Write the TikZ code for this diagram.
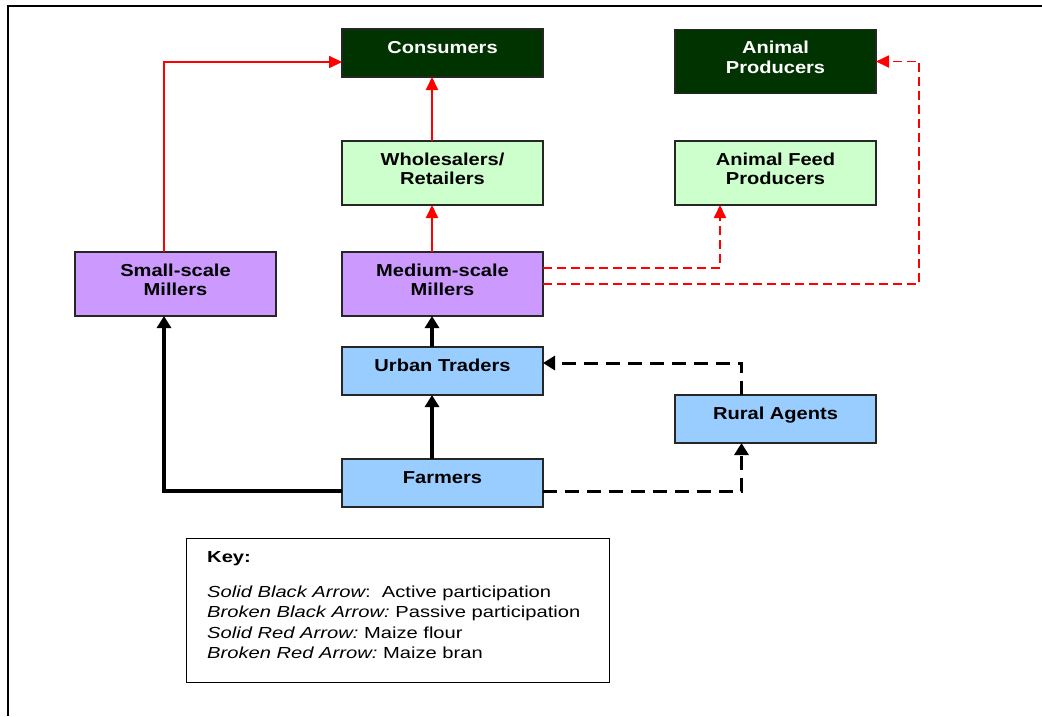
\documentclass[tikz,border=0pt]{standalone}
\usepackage{fontspec}
\setmainfont{Liberation Sans}
\newfontfamily\boxfont[FakeStretch=1.16]{Liberation Sans}
\newfontfamily\keyfont[FakeStretch=1.26]{Liberation Sans}
\usetikzlibrary{arrows.meta,calc}

\definecolor{deepgreen}{RGB}{0,51,0}
\definecolor{palegreen}{RGB}{204,255,204}
\definecolor{lilac}{RGB}{204,153,255}
\definecolor{skyblue}{RGB}{153,204,255}

\tikzset{
  box/.style={draw=black!85, line width=1.3pt, minimum width=201pt,
    inner sep=0pt, outer sep=0pt},
  darkbox/.style={box, fill=deepgreen},
  greenbox/.style={box, fill=palegreen},
  millbox/.style={box, fill=lilac},
  bluebox/.style={box, fill=skyblue},
  boxtext/.style={inner sep=0pt, align=center,
    font=\boxfont\bfseries\fontsize{17.3}{19.5}\selectfont},
  keytext/.style={inner sep=0pt, anchor=base west,
    font=\keyfont\fontsize{16}{20.5}\selectfont},
  redtip/.style={-{Triangle[length=13pt,width=12pt]}},
  blacktip/.style={-{Triangle[length=12pt,width=14pt]}},
  redarrow/.style={draw=red, line width=2pt, redtip},
  reddash/.style={draw=red, line width=2pt, dash pattern=on 9pt off 5pt, redtip},
  blackarrow/.style={draw=black, line width=3.2pt, blacktip},
  blackdash/.style={draw=black, line width=3pt, dash pattern=on 14pt off 8pt, blacktip},
}

\begin{document}
\begin{tikzpicture}[x=1pt,y=-1pt]
\useasboundingbox (0,0) rectangle (1042,716);

% outer frame (top and left edges)
\draw[line width=2pt] (8,716) -- (8,6) -- (1042,6);

% boxes
\node[darkbox, minimum height=48pt] (cons) at (442.5,53) {};
\node[darkbox, minimum height=64pt] (anim) at (775.5,61.5) {};
\node[greenbox, minimum height=64pt] (whole) at (442.5,173) {};
\node[greenbox, minimum height=64pt] (feed) at (775.5,173) {};
\node[millbox, minimum height=64pt] (small) at (175.5,284) {};
\node[millbox, minimum height=64pt] (medium) at (442.5,284) {};
\node[bluebox, minimum height=48pt] (urban) at (442.5,371) {};
\node[bluebox, minimum height=48pt] (rural) at (775.5,419) {};
\node[bluebox, minimum height=48pt] (farm) at (442.5,483) {};

% box labels
\node[boxtext, text=white, anchor=base] (consT) at ($(cons.north)+(0,24.5)$) {Consumers};
\node[boxtext, text=white] (animT) at ($(anim.north)+(0,28)$) {Animal\\Producers};
\node[boxtext] (wholeT) at ($(whole.north)+(0,28)$) {Wholesalers/\\Retailers};
\node[boxtext] (feedT) at ($(feed.north)+(0,28)$) {Animal Feed\\Producers};
\node[boxtext] (smallT) at ($(small.north)+(0,28)$) {Small-scale\\Millers};
\node[boxtext] (mediumT) at ($(medium.north)+(0,28)$) {Medium-scale\\Millers};
\node[boxtext, anchor=base] (urbanT) at ($(urban.north)+(0,24.5)$) {Urban Traders};
\node[boxtext, anchor=base] (ruralT) at ($(rural.north)+(0,24.5)$) {Rural Agents};
\node[boxtext, anchor=base] (farmT) at ($(farm.north)+(0,24.5)$) {Farmers};

% maize flour
\draw[redarrow] ([xshift=-11.5pt]small.north) |- ([yshift=-9pt]cons.west);
\draw[redarrow] ([xshift=-10.5pt]whole.north) -- ([xshift=-10.5pt]cons.south);
\draw[redarrow] ([xshift=-10.5pt]medium.north) -- ([xshift=-10.5pt]whole.south);

% maize bran
\draw[reddash] ([yshift=16pt]medium.east) -| ([xshift=-55.5pt]feed.south);
\draw[reddash, line width=1.8pt] (medium.east) -| ([xshift=43pt]anim.east) -- (anim.east);

% active participation
\draw[blackarrow] ([xshift=-10.5pt]urban.north) -- ([xshift=-10.5pt]medium.south);
\draw[blackarrow] ([xshift=-10.5pt]farm.north) -- ([xshift=-10.5pt]urban.south);
\draw[blackarrow] ([yshift=-8pt]farm.west) -| ([xshift=-11.5pt]small.south);

% passive participation
\draw[blackdash] ([yshift=-8pt]farm.east) -| ([xshift=-34pt]rural.south);
\draw[blackdash] ([xshift=-34pt]rural.north) |- ([yshift=8pt]urban.east);

% key
\node[draw=black, line width=1.2pt, minimum width=423pt, minimum height=144pt,
  inner sep=0pt, anchor=north west] (key) at (186,538) {};
\node[keytext] (k0) at (207,562) {\bfseries Key:};
\node[keytext] (k1) at (207,597) {\itshape Solid Black Arrow\upshape:\ \ Active participation};
\node[keytext] (k2) at (207,617.5) {\itshape Broken Black Arrow:\upshape\ Passive participation};
\node[keytext] (k3) at (207,638) {\itshape Solid Red Arrow:\upshape\ Maize flour};
\node[keytext] (k4) at (207,658.5) {\itshape Broken Red Arrow:\upshape\ Maize bran};
\end{tikzpicture}
\end{document}
